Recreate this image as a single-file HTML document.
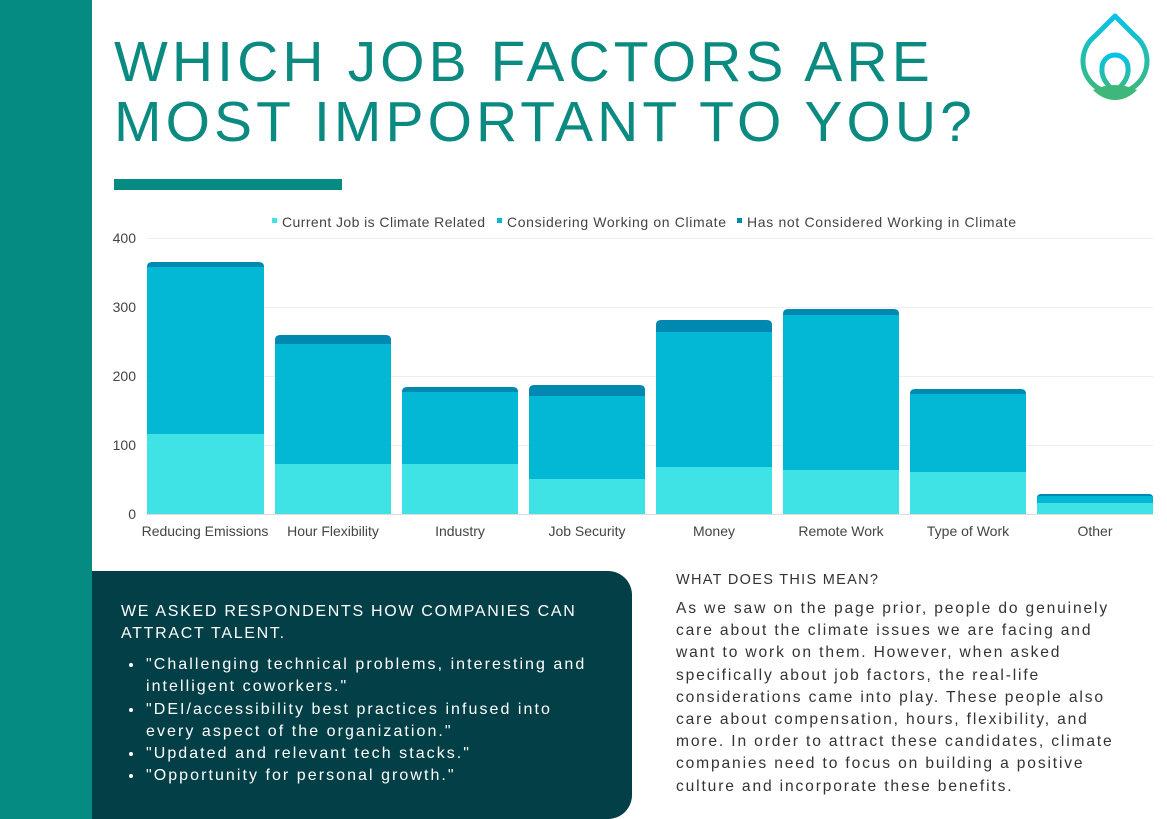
<!DOCTYPE html>
<html><head><meta charset="utf-8"><style>
*{margin:0;padding:0;box-sizing:border-box}
body{width:1167px;height:819px;position:relative;background:#fff;font-family:"Liberation Sans",sans-serif;overflow:hidden}
.side{position:absolute;left:0;top:0;width:92px;height:819px;background:#058b82}
.title{position:absolute;left:114px;top:32px;font-size:57px;line-height:60px;color:#0a8a80;letter-spacing:4.1px;font-weight:normal}
.bar{position:absolute;left:114px;top:179px;width:228px;height:11px;background:#058b82}
.box{position:absolute;left:92px;top:571px;width:540px;height:248px;background:#033f47;border-radius:0 24px 24px 0;color:#fff}
.box h3{position:absolute;left:29px;top:30px;font-size:16px;font-weight:normal;letter-spacing:1.7px;line-height:22px;width:490px}
.box ul{position:absolute;left:52px;top:83px;font-size:16px;letter-spacing:2.05px;line-height:22.3px;width:480px;white-space:nowrap}
.box li{padding-left:2px}
.mean{position:absolute;left:676px;top:571px;width:480px;color:#333;letter-spacing:1.3px;white-space:nowrap}
.mean h4{font-size:14.5px;font-weight:normal;margin-bottom:9px;line-height:18px}
.mean p{font-size:15.6px;line-height:22.2px;letter-spacing:1.85px}
</style></head><body>
<div class="side"></div>
<div class="title">WHICH JOB FACTORS ARE<br>MOST IMPORTANT TO YOU?</div>
<div class="bar"></div>
<svg style="position:absolute;left:1075px;top:8px" width="85" height="100" viewBox="0 0 85 100">
<defs><linearGradient id="g" x1="0" y1="0" x2="0" y2="1"><stop offset="0" stop-color="#05c3e8"/><stop offset="1" stop-color="#3db87a"/></linearGradient></defs>
<path d="M40 8 L60 28 A32 32 0 1 1 20 28 Z" fill="none" stroke="url(#g)" stroke-width="5" stroke-linejoin="round"/>
<path d="M40 85 C32 76 26 70 27 60 A13 13 0 1 1 53 60 C54 70 48 76 40 85 Z" fill="none" stroke="url(#g)" stroke-width="5"/>
<path d="M18 82 Q40 72 62 82 Q52 92 40 92 Q28 92 18 82Z" fill="#3db87a"/>
</svg>
<svg style="position:absolute;left:0;top:200px" width="1167" height="350" font-family="Liberation Sans,sans-serif">
<g stroke="#eee" stroke-width="1">
<line x1="146" y1="38.5" x2="1153" y2="38.5"/><line x1="146" y1="107.5" x2="1153" y2="107.5"/><line x1="146" y1="176.5" x2="1153" y2="176.5"/><line x1="146" y1="245.5" x2="1153" y2="245.5"/><line x1="146" y1="314.5" x2="1153" y2="314.5" stroke="#ddd"/>
</g>
<g font-size="14" fill="#444" text-anchor="end">
<text x="136" y="43">400</text><text x="136" y="112">300</text><text x="136" y="181">200</text><text x="136" y="250">100</text><text x="136" y="319">0</text>
</g>
<g font-size="14" fill="#444">
<rect x="272" y="18" width="5" height="5" fill="#3fe3e6"/><text x="282" y="27" textLength="203">Current Job is Climate Related</text>
<rect x="497" y="18" width="5" height="5" fill="#02b8d4"/><text x="507" y="27" textLength="219">Considering Working on Climate</text>
<rect x="737" y="18" width="5" height="5" fill="#0089b0"/><text x="747" y="27" textLength="269">Has not Considered Working in Climate</text>
</g>
<g font-size="14" fill="#444" text-anchor="middle">
<text x="205" y="336">Reducing Emissions</text><text x="333" y="336">Hour Flexibility</text><text x="460" y="336">Industry</text><text x="587" y="336">Job Security</text><text x="714" y="336">Money</text><text x="841" y="336">Remote Work</text><text x="968" y="336">Type of Work</text><text x="1095" y="336">Other</text>
</g>
<g>
<path d="M147 67 q0-5 5-5 h107 q5 0 5 5 v247 h-117z" fill="#0089b0"/><rect x="147" y="67" width="117" height="167" fill="#02b8d4"/><rect x="147" y="234" width="117" height="80" fill="#3fe3e6"/>
<path d="M275 140 q0-5 5-5 h106 q5 0 5 5 v174 h-116z" fill="#0089b0"/><rect x="275" y="144" width="116" height="120" fill="#02b8d4"/><rect x="275" y="264" width="116" height="50" fill="#3fe3e6"/>
<path d="M402 192 q0-5 5-5 h106 q5 0 5 5 v122 h-116z" fill="#0089b0"/><rect x="402" y="192" width="116" height="72" fill="#02b8d4"/><rect x="402" y="264" width="116" height="50" fill="#3fe3e6"/>
<path d="M529 190 q0-5 5-5 h106 q5 0 5 5 v124 h-116z" fill="#0089b0"/><rect x="529" y="196" width="116" height="83" fill="#02b8d4"/><rect x="529" y="279" width="116" height="35" fill="#3fe3e6"/>
<path d="M656 125 q0-5 5-5 h106 q5 0 5 5 v189 h-116z" fill="#0089b0"/><rect x="656" y="132" width="116" height="135" fill="#02b8d4"/><rect x="656" y="267" width="116" height="47" fill="#3fe3e6"/>
<path d="M783 114 q0-5 5-5 h106 q5 0 5 5 v200 h-116z" fill="#0089b0"/><rect x="783" y="115" width="116" height="155" fill="#02b8d4"/><rect x="783" y="270" width="116" height="44" fill="#3fe3e6"/>
<path d="M910 194 q0-5 5-5 h106 q5 0 5 5 v120 h-116z" fill="#0089b0"/><rect x="910" y="194" width="116" height="78" fill="#02b8d4"/><rect x="910" y="272" width="116" height="42" fill="#3fe3e6"/>
<path d="M1037 298 q0-4 4-4 h108 q4 0 4 4 v16 h-116z" fill="#0089b0"/><rect x="1037" y="296" width="116" height="7" fill="#02b8d4"/><rect x="1037" y="303" width="116" height="11" fill="#3fe3e6"/>
</g>
</svg>
<div class="box">
<h3>WE ASKED RESPONDENTS HOW COMPANIES CAN<br>ATTRACT TALENT.</h3>
<ul>
<li>"Challenging technical problems, interesting and<br>intelligent coworkers."</li>
<li>"DEI/accessibility best practices infused into<br>every aspect of the organization."</li>
<li>"Updated and relevant tech stacks."</li>
<li>"Opportunity for personal growth."</li>
</ul>
</div>
<div class="mean">
<h4>WHAT DOES THIS MEAN?</h4>
<p>As we saw on the page prior, people do genuinely<br>care about the climate issues we are facing and<br>want to work on them. However, when asked<br>specifically about job factors, the real-life<br>considerations came into play. These people also<br>care about compensation, hours, flexibility, and<br>more. In order to attract these candidates, climate<br>companies need to focus on building a positive<br>culture and incorporate these benefits.</p>
</div>
</body></html>
